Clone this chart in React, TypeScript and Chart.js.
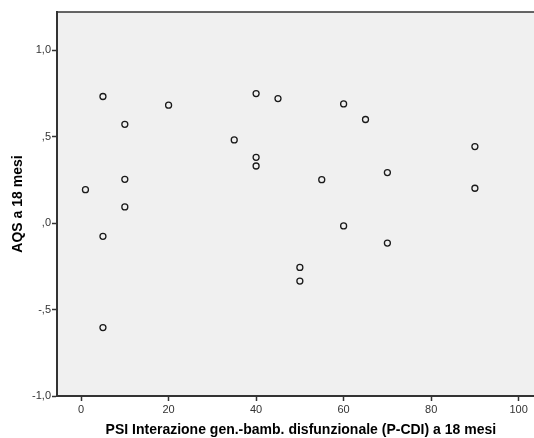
import React, { useEffect, useRef } from "react";
import { Chart, registerables } from "chart.js";

Chart.register(...registerables);

const xValues = [1, 5, 5, 5, 10, 10, 10, 20, 35, 40, 40, 40, 45, 50, 50, 55, 60, 60, 65, 70, 70, 90, 90];
const yValues = [0.194, 0.733, -0.076, -0.604, 0.572, 0.254, 0.094, 0.683, 0.482, 0.75, 0.381, 0.331, 0.721, -0.256, -0.335, 0.252, 0.69, -0.016, 0.6, 0.293, -0.115, 0.443, 0.202];

const xTicks = [0, 20, 40, 60, 80, 100];
const xTickLabels = ["0", "20", "40", "60", "80", "100"];
const yTicks = [-1, -0.5, 0, 0.5, 1];
const yTickLabels = ["-1,0", "-,5", ",0", ",5", "1,0"];

const xTitle = "PSI Interazione gen.-bamb. disfunzionale (P-CDI) a 18 mesi";
const yTitle = "AQS a 18 mesi";

const FONT = "'Liberation Sans', Arial, sans-serif";
const AXIS = "#333333";
const CANVAS_W = 549;

const framePlugin = {
  id: "frame",
  beforeDraw(chart: any) {
    const { ctx, chartArea } = chart;
    ctx.save();
    ctx.fillStyle = "#f0f0f0";
    ctx.fillRect(chartArea.left, chartArea.top, chartArea.right - chartArea.left, chartArea.bottom - chartArea.top);
    ctx.restore();
  },
  afterDraw(chart: any) {
    const { ctx, chartArea } = chart;
    ctx.save();
    ctx.strokeStyle = AXIS;
    ctx.lineWidth = 1.5;
    ctx.beginPath();
    ctx.moveTo(chartArea.left, chartArea.top);
    ctx.lineTo(chartArea.right + 2, chartArea.top);
    ctx.stroke();
    ctx.restore();
  },
};

export default function App() {
  const ref = useRef<HTMLCanvasElement>(null);
  useEffect(() => {
    if (!ref.current) return;
    const chart = new Chart(ref.current, {
      type: "scatter",
      data: {
        datasets: [
          {
            data: xValues.map((x, i) => ({ x, y: yValues[i] })),
            pointRadius: 3,
            pointHoverRadius: 3,
            pointBorderWidth: 1.3,
            pointBorderColor: "#1a1a1a",
            pointBackgroundColor: "rgba(0,0,0,0)",
          },
        ],
      },
      options: {
        animation: false,
        responsive: false,
        maintainAspectRatio: false,
        layout: { padding: { top: 12, right: 0, left: 0, bottom: 0 } },
        plugins: { legend: { display: false }, tooltip: { enabled: false } },
        scales: {
          x: {
            type: "linear",
            min: -5.5,
            max: 105.95,
            afterBuildTicks: (s: any) => {
              s.ticks = xTicks.map((v) => ({ value: v }));
            },
            afterFit: (s: any) => {
              s.height = 42;
              s.paddingRight = 0;
              s.paddingLeft = 0;
            },
            ticks: {
              callback: (v: any) => {
                const i = xTicks.indexOf(Number(v));
                return i >= 0 ? xTickLabels[i] : "";
              },
              font: { family: FONT, size: 11 },
              color: "#333333",
              padding: 2,
              maxRotation: 0,
            },
            grid: { drawOnChartArea: false, drawTicks: true, tickLength: 5, tickColor: AXIS, tickWidth: 1.5 },
            border: { display: true, color: AXIS, width: 2 },
            title: {
              display: true,
              text: xTitle,
              font: { family: FONT, size: 14, weight: "bold" },
              color: "#000000",
              padding: { top: 6, bottom: -1 },
            },
          },
          y: {
            type: "linear",
            min: -1,
            max: 1.222,
            afterBuildTicks: (s: any) => {
              s.ticks = yTicks.map((v) => ({ value: v }));
            },
            afterFit: (s: any) => {
              s.width = 57;
            },
            ticks: {
              callback: (v: any) => {
                const i = yTicks.indexOf(Number(v));
                return i >= 0 ? yTickLabels[i] : "";
              },
              font: { family: FONT, size: 11 },
              color: "#333333",
              padding: 1,
            },
            grid: { drawOnChartArea: false, drawTicks: true, tickLength: 5, tickColor: AXIS, tickWidth: 1.5 },
            border: { display: true, color: AXIS, width: 2 },
            title: {
              display: true,
              text: yTitle,
              font: { family: FONT, size: 14, weight: "bold" },
              color: "#000000",
              padding: { top: 9.6, bottom: 0 },
            },
          },
        },
      },
      plugins: [framePlugin],
    });
    return () => chart.destroy();
  }, []);
  return (
    <div
      style={{
        position: "absolute",
        left: 0,
        top: 0,
        width: 534,
        height: 438,
        overflow: "hidden",
        background: "#ffffff",
      }}
    >
      <canvas ref={ref} width={CANVAS_W} height={438} style={{ display: "block" }} />
    </div>
  );
}
